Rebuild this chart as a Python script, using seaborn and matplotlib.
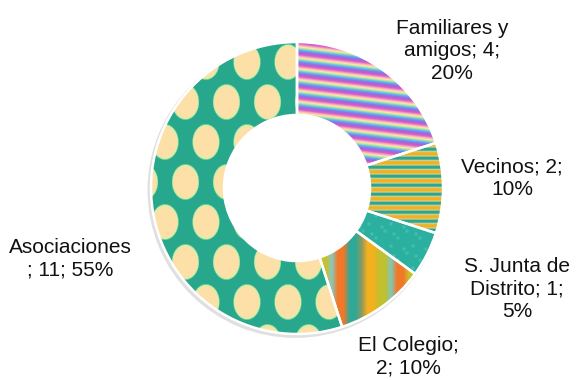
import numpy as np
import matplotlib
matplotlib.use("Agg")
import matplotlib.pyplot as plt
import matplotlib.colors as mcolors
from matplotlib.patches import Wedge
import seaborn as sns

categories = ["Familiares y amigos", "Vecinos", "S. Junta de Distrito", "El Colegio", "Asociaciones"]
values = [4, 2, 1, 2, 11]
percents = [20, 10, 5, 10, 55]
label_texts = ["Familiares y\namigos; 4;\n20%", "Vecinos; 2;\n10%", "S. Junta de\nDistrito; 1;\n5%",
               "El Colegio;\n2; 10%", "Asociaciones\n; 11; 55%"]
base_colors = ["#a070e0", "#f6ad1c", "#2bb0a0", "#f07828", "#27a88c"]

sns.set_theme(style="white")
plt.rcParams['font.family'] = ['Liberation Sans', 'DejaVu Sans']

W, H = 587, 380
CX, CY, R = 297, 188, 146
fig = plt.figure(figsize=(W / 100, H / 100), dpi=100)
ax = fig.add_axes([0, 0, 1, 1])
xmin, xmax = -CX / R, (W - CX) / R
ymin, ymax = -(H - CY) / R, CY / R
ax.set_xlim(xmin, xmax)
ax.set_ylim(ymin, ymax)
ax.set_axis_off()

# subtle shadow ring
shadow = Wedge((-0.012, -0.015), 1.012, 0, 360, width=0.03, color="#000000", alpha=0.12, zorder=0,
               linewidth=0)
ax.add_patch(shadow)

wedges, _ = ax.pie(values, startangle=90, counterclock=False, colors=base_colors,
                   radius=1.0, wedgeprops=dict(width=0.5, edgecolor="white", linewidth=0),
                   frame=False)
ax.set_xlim(xmin, xmax)
ax.set_ylim(ymin, ymax)
ax.set_aspect('auto')

px, py = np.meshgrid(np.arange(W) + 0.5, np.arange(H) + 0.5)


def cyc(phase, cols):
    cols = [mcolors.to_rgb(c) for c in cols]
    n = len(cols)
    t = (phase % 1.0) * n
    i0 = np.floor(t).astype(int) % n
    i1 = (i0 + 1) % n
    f = (t - np.floor(t))[..., None]
    a = np.array(cols)
    return a[i0] * (1 - f) + a[i1] * f


def pat_fam():
    ph = (py - 0.12 * px) / 11.0
    return cyc(ph, ["#fde8a0", "#a8e0a8", "#58b8f0", "#8a78e8", "#b060d8", "#e060c0", "#f6a8c8"])


def pat_vec():
    ph = py / 9.0
    return cyc(ph, ["#f6ad1c", "#f6b020", "#d0d080", "#2aa596", "#2aa596", "#c8d088"])


def pat_junta():
    img = np.zeros((H, W, 3)) + np.array(mcolors.to_rgb("#2bb0a0"))
    pts = [(0, 0), (13, 7), (6, 15), (19, 18), (9, 3)]
    light = np.array(mcolors.to_rgb("#55c4b6"))
    for ox, oy in pts:
        d = np.hypot((px - ox) % 22 - 11, (py - oy) % 22 - 11)
        m = np.clip(1.6 - d / 1.5, 0, 1)[..., None] * 0.6
        img = img * (1 - m) + light * m
    return img


def pat_col():
    seq = ["#c8c028", "#c8c028", "#88c8c0", "#f07828", "#f07828", "#30a898", "#30a898",
           "#8a9a60", "#f5b020", "#f5b020", "#c0c030", "#c0c030", "#80c8b8", "#f07828",
           "#f07828", "#c8c028"]
    return cyc((px - 320) / 95.0, seq)


def pat_asoc():
    img = np.zeros((H, W, 3)) + np.array(mcolors.to_rgb("#27a88c"))
    cream = np.array(mcolors.to_rgb("#fde0a8"))
    rim = np.array(mcolors.to_rgb("#d4f0a8"))
    dx, dy = 41.0, 40.0
    row = np.floor((py - 62 + dy / 2) / dy)
    cy_ = 62 + row * dy
    off = 247 + (row % 2) * (-20.5)
    cx_ = off + np.round((px - off) / dx) * dx
    e = np.sqrt(((px - cx_) / 13.0) ** 2 + ((py - cy_) / 17.0) ** 2)
    inner = np.clip((0.98 - e) / 0.12, 0, 1)[..., None]
    edge = np.clip((1.08 - e) / 0.1, 0, 1)[..., None]
    img = img * (1 - edge) + rim * edge
    img = img * (1 - inner) + cream * inner
    return img


pats = [pat_fam(), pat_vec(), pat_junta(), pat_col(), pat_asoc()]
for w, p in zip(wedges, pats):
    im = ax.imshow(p, extent=(xmin, xmax, ymin, ymax), origin="upper", zorder=w.get_zorder() + 0.1,
                   interpolation="bilinear", aspect="auto")
    im.set_clip_path(w)
    w.set_edgecolor("white")
    w.set_linewidth(1.8)
    w.set_facecolor("none")
    w.set_zorder(w.get_zorder() + 0.2)

ax.set_xlim(xmin, xmax)
ax.set_ylim(ymin, ymax)

label_px = [(452, 51), (512, 178), (517, 289), (408, 357), (70, 259)]
for (lx, ly), t in zip(label_px, label_texts):
    ax.text((lx - CX) / R, (CY - ly) / R, t, ha="center", va="center", fontsize=15,
            color="#111111", linespacing=1.25)

fig.savefig("out.png", dpi=100)
